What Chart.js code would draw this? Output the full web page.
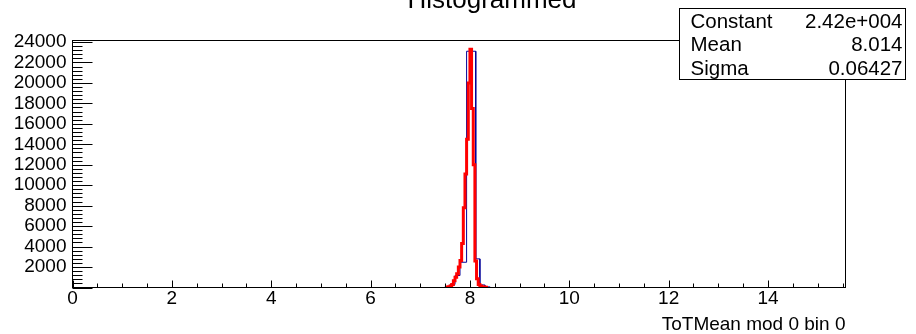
<!DOCTYPE html>
<html>
<head>
<meta charset="utf-8">
<script src="https://cdn.jsdelivr.net/npm/chart.js@4/dist/chart.umd.min.js"></script>
<style>
  html, body { margin: 0; padding: 0; background: #fff; }
  #c { display: block; }
</style>
</head>
<body>
<canvas id="c" width="916" height="334"></canvas>
<script>
// ---- data ----
const titleText = "Histogrammed";
const xAxisTitle = "ToTMean mod 0 bin 0";

// blue histogram (coarse bins): bin edges and counts
const blueEdges  = [7.50, 7.60, 7.70, 7.80, 7.933, 8.117, 8.20, 8.30, 8.40];
const blueCounts = [80, 300, 1170, 2470, 23100, 2800, 250, 60];

// red histogram (fine bins): bin edges and counts
const redEdges  = [7.533, 7.567, 7.600, 7.633, 7.667, 7.700, 7.733, 7.767, 7.800, 7.833,
                   7.867, 7.900, 7.933, 7.967, 8.000, 8.033, 8.067, 8.100, 8.133, 8.167,
                   8.200, 8.233, 8.267, 8.300, 8.333];
const redCounts = [40, 80, 150, 300, 650, 1000, 1350, 2000, 2650, 4300,
                   7800, 11100, 14500, 20000, 23300, 17500, 12000, 2600, 850, 300,
                   150, 80, 40, 20];

// axis ranges / tick labels
const xMin = 0, xMax = 15.56, xMinorStep = 0.5;
const xTicks = [0, 2, 4, 6, 8, 10, 12, 14];
const yMin = 0, yMax = 24150, yMinorStep = 400;
const yTicks = [0, 2000, 4000, 6000, 8000, 10000, 12000, 14000, 16000, 18000, 20000, 22000, 24000];

// stats box
const statNames  = ["Constant", "Mean", "Sigma"];
const statValues = ["2.42e+004", "8.014", "0.06427"];

// ---- build step outlines from bins ----
function stepPoints(edges, counts) {
  const pts = [{x: edges[0], y: 0}];
  for (let i = 0; i < counts.length; i++) {
    pts.push({x: edges[i], y: counts[i]});
    pts.push({x: edges[i + 1], y: counts[i]});
  }
  pts.push({x: edges[edges.length - 1], y: 0});
  return pts;
}

const FONT = "'Liberation Sans', Arial, Helvetica, sans-serif";

const decorPlugin = {
  id: 'decor',
  afterDraw(chart) {
    const ctx = chart.ctx;
    const a = chart.chartArea;
    const xs = chart.scales.x, ys = chart.scales.y;
    ctx.save();
    ctx.strokeStyle = '#000';
    ctx.lineWidth = 1;
    // frame
    ctx.strokeRect(a.left, a.top, a.right - a.left, a.bottom - a.top);
    ctx.beginPath();
    // y ticks (inward): major at labelled ticks, minor every yMinorStep
    for (let v = yMin; v <= yMax + 1e-6; v += yMinorStep) {
      const py = Math.round(ys.getPixelForValue(v)) + 0.5;
      const len = yTicks.includes(v) ? 20 : 10;
      ctx.moveTo(a.left, py);
      ctx.lineTo(a.left + len, py);
    }
    // x ticks (inward)
    for (let i = 0; xMin + i * xMinorStep <= xMax + 1e-6; i++) {
      const v = xMin + i * xMinorStep;
      const px = Math.round(xs.getPixelForValue(v)) + 0.5;
      const len = xTicks.includes(v) ? 7 : 4;
      ctx.moveTo(px, a.bottom);
      ctx.lineTo(px, a.bottom - len);
    }
    ctx.stroke();

    // title
    ctx.fillStyle = '#000';
    ctx.font = '26px ' + FONT;
    ctx.textAlign = 'center';
    ctx.textBaseline = 'alphabetic';
    ctx.fillText(titleText, 492, 8);

    // x axis title
    ctx.font = '19px ' + FONT;
    ctx.textAlign = 'right';
    ctx.fillText(xAxisTitle, a.right, 330);

    // stats box
    const bx = 679.5, by = 8.5, bw = 226, bh = 71;
    ctx.fillStyle = '#fff';
    ctx.fillRect(bx, by, bw, bh);
    ctx.strokeRect(bx, by, bw, bh);
    ctx.fillStyle = '#000';
    ctx.font = '20.5px ' + FONT;
    const rowH = bh / statNames.length;
    for (let i = 0; i < statNames.length; i++) {
      const base = by + rowH * i + rowH - 4.5;
      ctx.textAlign = 'left';
      ctx.fillText(statNames[i], bx + 11, base);
      ctx.textAlign = 'right';
      ctx.fillText(statValues[i], bx + bw - 3, base);
    }
    ctx.restore();
  }
};

new Chart(document.getElementById('c'), {
  type: 'line',
  data: {
    datasets: [
      {
        label: 'red',
        data: stepPoints(redEdges, redCounts),
        borderColor: '#ff0000',
        borderWidth: 3,
        pointRadius: 0,
        tension: 0,
        fill: false,
        borderJoinStyle: 'miter'
      },
      {
        label: 'blue',
        data: stepPoints(blueEdges, blueCounts),
        borderColor: '#000099',
        borderWidth: 1,
        pointRadius: 0,
        tension: 0,
        fill: false,
        borderJoinStyle: 'miter'
      }
    ]
  },
  options: {
    responsive: false,
    animation: false,
    events: [],
    layout: { padding: { left: 0, top: 40.5, right: 70.5, bottom: 20.5 } },
    plugins: { legend: { display: false }, tooltip: { enabled: false }, title: { display: false } },
    scales: {
      x: {
        type: 'linear',
        min: xMin, max: xMax,
        grid: { display: false, drawTicks: false },
        border: { display: false },
        afterFit(s) { s.height = 26; },
        afterBuildTicks(s) { s.ticks = xTicks.map(v => ({ value: v })); },
        ticks: {
          autoSkip: false,
          maxRotation: 0,
          padding: 0,
          color: '#000',
          font: { family: FONT, size: 19 },
          callback: (v) => String(v)
        }
      },
      y: {
        type: 'linear',
        min: yMin, max: yMax,
        grid: { display: false, drawTicks: false },
        border: { display: false },
        afterFit(s) { s.width = 72.5; },
        afterBuildTicks(s) { s.ticks = yTicks.map(v => ({ value: v })); },
        ticks: {
          autoSkip: false,
          padding: 6,
          color: '#000',
          font: { family: FONT, size: 19 },
          callback: (v) => (v === 0 ? '' : String(v))
        }
      }
    }
  },
  plugins: [decorPlugin]
});
</script>
</body>
</html>
